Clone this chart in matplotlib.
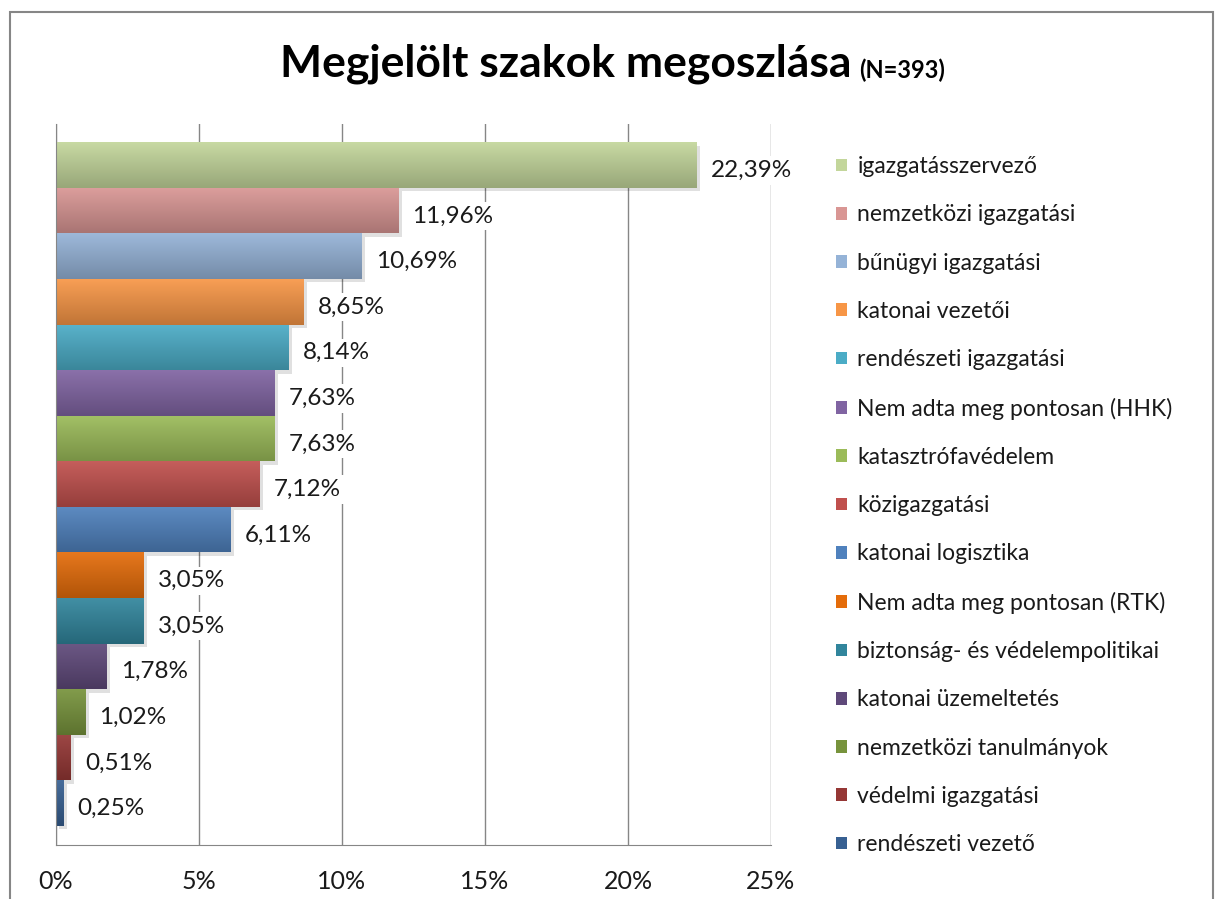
import numpy as np
import matplotlib
matplotlib.use("Agg")
import matplotlib.pyplot as plt
import matplotlib.colors as mcolors
from matplotlib.patches import Patch, Rectangle
import matplotlib.patheffects as pe

plt.rcParams['font.family'] = ['Lato', 'DejaVu Sans']

# adatok (felülről lefelé)
szakok = ["igazgatásszervező", "nemzetközi igazgatási", "bűnügyi igazgatási",
          "katonai vezetői", "rendészeti igazgatási", "Nem adta meg pontosan (HHK)",
          "katasztrófavédelem", "közigazgatási", "katonai logisztika",
          "Nem adta meg pontosan (RTK)", "biztonság- és védelempolitikai",
          "katonai üzemeltetés", "nemzetközi tanulmányok", "védelmi igazgatási",
          "rendészeti vezető"]
ertekek = [22.39, 11.96, 10.69, 8.65, 8.14, 7.63, 7.63, 7.12, 6.11,
           3.05, 3.05, 1.78, 1.02, 0.51, 0.25]
szinek = ["#C3D69B", "#D99694", "#95B3D7", "#F79646", "#4BACC6", "#8064A2",
          "#9BBB59", "#C0504D", "#4F81BD", "#E46C0A", "#31859C", "#5F497A",
          "#77933C", "#953735", "#376092"]
xtick_ertekek = [0, 5, 10, 15, 20, 25]

fig = plt.figure(figsize=(12.18, 8.99), dpi=100)
ax = fig.add_axes([56/1218, 1-845/899, (771-56)/1218, (845-124)/899])

y = np.arange(len(ertekek))
bars = ax.barh(y, ertekek, height=1.0, color=szinek, zorder=2)

# Excel-szerű színátmenet + halvány árnyék
for b, c in zip(bars, szinek):
    rgb = np.array(mcolors.to_rgb(c))
    light = rgb + (1 - rgb) * 0.08
    dark = rgb * 0.78
    t = np.linspace(0, 1, 64)[:, None]
    grad = (light * (1 - t) + dark * t)[:, None, :]
    x0, y0 = b.get_x(), b.get_y()
    w, h = b.get_width(), b.get_height()
    im = ax.imshow(grad, extent=(x0, x0 + w, y0 + h, y0), origin='upper',
                   aspect='auto', zorder=2.5, interpolation='bilinear')
    im.set_clip_path(b)
    b.set_path_effects([pe.SimplePatchShadow(offset=(2.5, -2.5), shadow_rgbFace='black', alpha=0.12),
                        pe.Normal()])

for b, v in zip(bars, ertekek):
    ax.text(v + 0.5, b.get_y() + b.get_height()/2 + 0.12, f"{v:.2f}%".replace('.', ','),
            va='center', ha='left', fontsize=17.5, color='#1a1a1a', zorder=4,
            bbox=dict(boxstyle='square,pad=0.15', fc='white', ec='none'))

ax.set_xlim(0, 25)
ax.set_ylim(len(ertekek) - 0.5 + 0.42, -0.5 - 0.4)
ax.set_xticks(xtick_ertekek)
ax.set_xticklabels([f"{t}%" for t in xtick_ertekek], fontsize=18, color='#1a1a1a')
ax.tick_params(axis='x', length=0, pad=18)
ax.set_yticks([])
ax.grid(axis='x', color='#868686', lw=1, zorder=1)
for s in ['top', 'right']:
    ax.spines[s].set_visible(False)
for s in ['left', 'bottom']:
    ax.spines[s].set_color('#868686')

handles = [Patch(facecolor=c) for c in szinek]
fig.legend(handles, szakok, loc='upper left', bbox_to_anchor=(827/1218, 1-147/899),
           frameon=False, fontsize=16.5, handlelength=0.48, handleheight=0.48,
           handletextpad=0.45, labelspacing=1.19, borderaxespad=0, labelcolor='#1a1a1a')

fig.text(852/1218, 1-64/899, "Megjelölt szakok megoszlása", fontsize=32, fontweight='bold',
         ha='right', va='center')
fig.text(859/1218, 1-70/899, "(N=393)", fontsize=17, fontweight='bold', ha='left', va='center')

fig.add_artist(Rectangle((10/1218, -0.05), (1213-10)/1218, 1.05 - 12/899, transform=fig.transFigure,
                         fill=False, ec='#868686', lw=1.5))

fig.savefig("out.png", dpi=100)
